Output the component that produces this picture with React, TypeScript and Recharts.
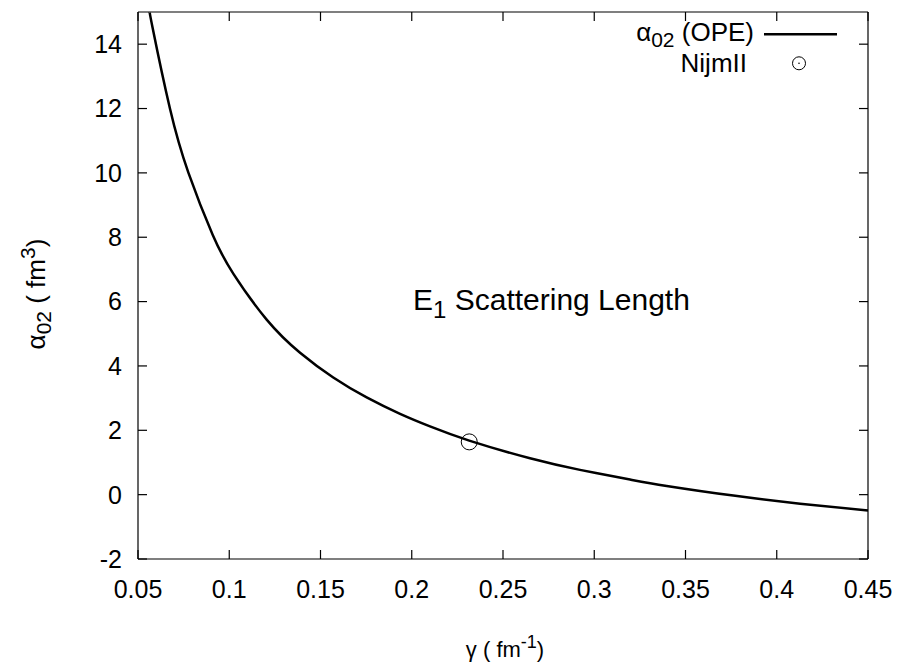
import React from 'react';
import { ComposedChart, Line, Scatter, XAxis, YAxis, Customized } from 'recharts';

const gammaValues = [0.0565, 0.058, 0.0675, 0.0776, 0.0909, 0.1022, 0.1205, 0.1388, 0.157, 0.1753, 0.1936, 0.21, 0.2315, 0.2648, 0.2922, 0.3196, 0.3397, 0.3762, 0.4128, 0.45];
const alphaValues = [15.0, 14.51, 12.0, 10.01, 8.08, 6.87, 5.44, 4.41, 3.64, 3.02, 2.51, 2.12, 1.68, 1.13, 0.77, 0.47, 0.27, -0.03, -0.28, -0.49];
const nijmGamma = [0.2315];
const nijmAlpha = [1.64];
const xTicks = [0.05, 0.1, 0.15, 0.2, 0.25, 0.3, 0.35, 0.4, 0.45];
const yTicks = [-2, 0, 2, 4, 6, 8, 10, 12, 14];

const curve = gammaValues.map((g, i) => ({ g, a: alphaValues[i] }));
const nijm = nijmGamma.map((g, i) => ({ g, a: nijmAlpha[i] }));

const FONT = '"Liberation Sans", Arial, Helvetica, sans-serif';

const Overlay = () => (
  <g fontFamily={FONT} fill="#000">
    <text x={746} y={33} fontSize={26} textAnchor="end">
      α<tspan fontSize={21} dy={6}>02</tspan><tspan dy={-6}> (OPE)</tspan>
    </text>
    <line x1={756} x2={829} y1={26.3} y2={26.3} stroke="#000" strokeWidth={2.5} />
    <text x={739} y={64} fontSize={26} textAnchor="end">NijmII</text>
    <circle cx={791} cy={55.3} r={6.5} fill="none" stroke="#000" strokeWidth={1} />
    <circle cx={791} cy={55.3} r={0.8} fill="#000" />
    <text x={405} y={302} fontSize={30}>
      E<tspan fontSize={24} dy={8}>1</tspan><tspan dy={-8}> Scattering Length</tspan>
    </text>
    <text x={-286} y={37} transform="rotate(-90)" fontSize={26} textAnchor="middle">
      α<tspan fontSize={21} dy={6}>02</tspan><tspan dy={-6}> ( fm</tspan><tspan fontSize={21} dy={-10}>3</tspan><tspan dy={10}>)</tspan>
    </text>
    <text x={497} y={649} fontSize={22} textAnchor="middle">
      γ ( fm<tspan fontSize={18} dy={-9}>-1</tspan><tspan dy={9}>)</tspan>
    </text>
  </g>
);

const CircleShape = (props: any) => (
  <circle cx={props.cx} cy={props.cy} r={8} fill="none" stroke="#000" strokeWidth={1} />
);

const tickStyle = { fill: '#000', fontSize: 25, fontFamily: FONT };

export default function App() {
  return (
    <ComposedChart width={887} height={654} margin={{ top: 3, right: 26, bottom: 0, left: 0 }}>
      <XAxis
        xAxisId="b"
        type="number"
        dataKey="g"
        domain={[0.05, 0.45]}
        ticks={xTicks}
        allowDataOverflow
        orientation="bottom"
        height={103}
        tickSize={-9}
        tickMargin={30}
        tick={tickStyle}
        axisLine={{ stroke: '#000', strokeWidth: 1.2 }}
        tickLine={{ stroke: '#000', strokeWidth: 1.2 }}
        interval={0}
      />
      <XAxis
        xAxisId="t"
        type="number"
        dataKey="g"
        domain={[0.05, 0.45]}
        ticks={xTicks}
        allowDataOverflow
        orientation="top"
        height={1}
        tickSize={-9}
        tickFormatter={() => ''}
        axisLine={{ stroke: '#000', strokeWidth: 1.2 }}
        tickLine={{ stroke: '#000', strokeWidth: 1.2 }}
        interval={0}
      />
      <YAxis
        yAxisId="l"
        type="number"
        dataKey="a"
        domain={[-2, 15]}
        ticks={yTicks}
        allowDataOverflow
        orientation="left"
        width={130}
        tickSize={-9}
        tickMargin={25}
        tick={tickStyle}
        axisLine={{ stroke: '#000', strokeWidth: 1.2 }}
        tickLine={{ stroke: '#000', strokeWidth: 1.2 }}
        interval={0}
      />
      <YAxis
        yAxisId="r"
        type="number"
        dataKey="a"
        domain={[-2, 15]}
        ticks={yTicks}
        allowDataOverflow
        orientation="right"
        width={1}
        tickSize={-9}
        tickFormatter={() => ''}
        axisLine={{ stroke: '#000', strokeWidth: 1.2 }}
        tickLine={{ stroke: '#000', strokeWidth: 1.2 }}
        interval={0}
      />
      <Line
        xAxisId="b"
        yAxisId="l"
        data={curve}
        dataKey="a"
        type="natural"
        stroke="#000"
        strokeWidth={2.5}
        dot={false}
        isAnimationActive={false}
      />
      <Scatter
        xAxisId="b"
        yAxisId="l"
        data={nijm}
        dataKey="a"
        shape={CircleShape}
        isAnimationActive={false}
      />
      <Customized component={Overlay} />
    </ComposedChart>
  );
}
